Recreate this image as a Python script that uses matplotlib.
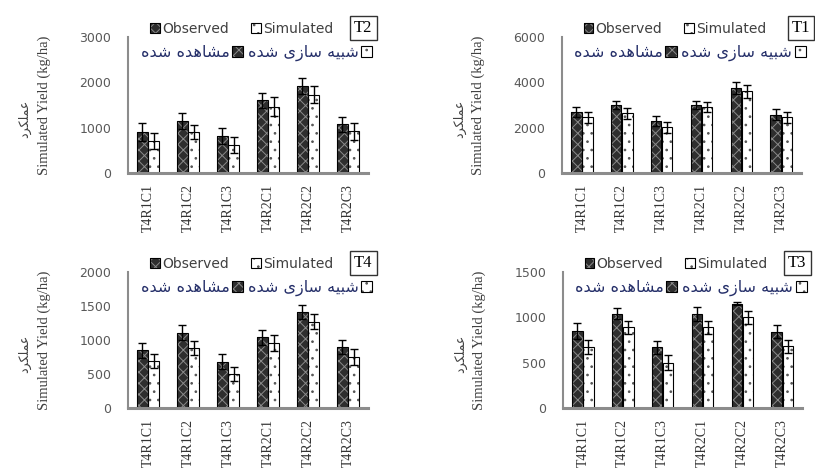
import matplotlib
matplotlib.use("Agg")
import matplotlib.pyplot as plt
from matplotlib.patches import Patch
import numpy as np

# Data
categories = ["T4R1C1", "T4R1C2", "T4R1C3", "T4R2C1", "T4R2C2", "T4R2C3"]

t1_obs = [2700, 3000, 2300, 3000, 3750, 2570]
t1_obs_err = [220, 180, 220, 180, 260, 250]
t1_sim = [2450, 2630, 2020, 2900, 3600, 2450]
t1_sim_err = [250, 230, 250, 220, 270, 250]

t2_obs = [900, 1150, 820, 1600, 1920, 1070]
t2_obs_err = [200, 180, 170, 170, 180, 175]
t2_sim = [710, 900, 620, 1460, 1730, 920]
t2_sim_err = [180, 160, 180, 210, 190, 190]

t3_obs = [850, 1040, 670, 1040, 1150, 840]
t3_obs_err = [85, 60, 70, 75, 15, 70]
t3_sim = [670, 890, 500, 890, 1000, 680]
t3_sim_err = [75, 70, 80, 70, 70, 70]

t4_obs = [850, 1110, 680, 1040, 1410, 900]
t4_obs_err = [110, 110, 110, 110, 100, 100]
t4_sim = [690, 880, 500, 960, 1270, 750]
t4_sim_err = [100, 100, 110, 120, 110, 115]

t1_ticks = [0, 2000, 4000, 6000]
t2_ticks = [0, 1000, 2000, 3000]
t3_ticks = [0, 500, 1000, 1500]
t4_ticks = [0, 500, 1000, 1500, 2000]

label_obs = "Observed"
label_sim = "Simulated"
label_obs_fa = "مشاهده شده"
label_sim_fa = "شبیه سازی شده"
ylabel_fa = "عملکرد"
ylabel_en = "Simulated Yield (kg/ha)"

# matplotlib has no Arabic shaping: pick presentation forms by hand, then reverse
FORMS = {
    'م': (0xFEE1, 0xFEE2, 0xFEE3, 0xFEE4),
    'ش': (0xFEB5, 0xFEB6, 0xFEB7, 0xFEB8),
    'ا': (0xFE8D, 0xFE8E),
    'ه': (0xFEE9, 0xFEEA, 0xFEEB, 0xFEEC),
    'د': (0xFEA9, 0xFEAA),
    'ب': (0xFE8F, 0xFE90, 0xFE91, 0xFE92),
    'ی': (0xFBFC, 0xFBFD, 0xFBFE, 0xFBFF),
    'س': (0xFEB1, 0xFEB2, 0xFEB3, 0xFEB4),
    'ز': (0xFEAF, 0xFEB0),
    'ع': (0xFEC9, 0xFECA, 0xFECB, 0xFECC),
    'ل': (0xFEDD, 0xFEDE, 0xFEDF, 0xFEE0),
    'ک': (0xFB8E, 0xFB8F, 0xFB90, 0xFB91),
    'ر': (0xFEAD, 0xFEAE),
}


def shape_fa(s):
    out = []
    for i, ch in enumerate(s):
        if ch not in FORMS:
            out.append(ch)
            continue
        prev = s[i - 1] if i > 0 else ''
        nxt = s[i + 1] if i + 1 < len(s) else ''
        pj = prev in FORMS and len(FORMS[prev]) == 4
        nj = nxt in FORMS and len(FORMS[ch]) == 4
        f = FORMS[ch]
        if pj and nj:
            out.append(chr(f[3]))
        elif pj:
            out.append(chr(f[1]))
        elif nj:
            out.append(chr(f[2]))
        else:
            out.append(chr(f[0]))
    return ''.join(out)[::-1]


plt.rcParams['hatch.linewidth'] = 0.7
fa_font = ['DejaVu Sans', 'Noto Sans']

OBS_FACE, OBS_HATCH, OBS_PAT = '#2e2e2e', '#8a8a8a', 'xxx'
SIM_FACE, SIM_HATCH, SIM_PAT = 'white', '#555555', '..'

fig = plt.figure(figsize=(8.15, 4.7), dpi=100)

panels = [
    ("T2", t2_obs, t2_obs_err, t2_sim, t2_sim_err, t2_ticks, [0.1571, 0.6319, 0.2945, 0.2894], 0.98),
    ("T1", t1_obs, t1_obs_err, t1_sim, t1_sim_err, t1_ticks, [0.6896, 0.6319, 0.2933, 0.2894], 1.0),
    ("T4", t4_obs, t4_obs_err, t4_sim, t4_sim_err, t4_ticks, [0.1571, 0.1319, 0.2945, 0.2894], 0.98),
    ("T3", t3_obs, t3_obs_err, t3_sim, t3_sim_err, t3_ticks, [0.6908, 0.1319, 0.2933, 0.2894], 0.98),
]

x = np.arange(len(categories))
w = 0.26

for name, obs, obs_err, sim, sim_err, ticks, rect, box_x in panels:
    ax = fig.add_axes(rect)

    # hatched fills, then outlines with error bars on top
    ax.bar(x - 0.14, obs, w, color=OBS_FACE, edgecolor=OBS_HATCH, hatch=OBS_PAT, linewidth=0)
    ax.bar(x + 0.14, sim, w, color=SIM_FACE, edgecolor=SIM_HATCH, hatch=SIM_PAT, linewidth=0)
    ax.bar(x - 0.14, obs, w, fill=False, edgecolor='black', linewidth=0.8,
           yerr=obs_err, capsize=3, error_kw=dict(elinewidth=1, capthick=1, ecolor='black'))
    ax.bar(x + 0.14, sim, w, fill=False, edgecolor='black', linewidth=0.8,
           yerr=sim_err, capsize=3, error_kw=dict(elinewidth=1, capthick=1, ecolor='black'))

    ax.set_xlim(-0.5, len(categories) - 0.5)
    ax.set_ylim(0, ticks[-1])
    ax.set_yticks(ticks)
    ax.set_yticklabels([str(t) for t in ticks], fontsize=9, color='#595959')
    ax.set_xticks(x)
    ax.set_xticklabels(categories, rotation=90, fontsize=10, family='Liberation Serif',
                       color='#333333')
    ax.tick_params(axis='y', length=0, pad=12)
    ax.tick_params(axis='x', length=0, pad=8)

    for side in ['top', 'right']:
        ax.spines[side].set_visible(False)
    ax.spines['left'].set_color('#8c8c8c')
    ax.spines['left'].set_linewidth(1.5)
    ax.spines['bottom'].set_color('#8c8c8c')
    ax.spines['bottom'].set_linewidth(2.2)

    # y labels (Persian + English)
    ax.text(-0.35, 0.5, ylabel_en, transform=ax.transAxes, rotation=90,
            ha='center', va='center', fontsize=10.5, family='Liberation Serif', color='#404040')
    ax.text(-0.43, 0.4, shape_fa(ylabel_fa), transform=ax.transAxes, rotation=90,
            ha='center', va='center', fontsize=9, family=fa_font, color='#404040')

    # legends
    h_obs = (Patch(facecolor=OBS_FACE, edgecolor=OBS_HATCH, hatch=OBS_PAT, linewidth=0),
             Patch(fill=False, edgecolor='black', linewidth=0.8))
    h_sim = (Patch(facecolor=SIM_FACE, edgecolor=SIM_HATCH, hatch=SIM_PAT, linewidth=0),
             Patch(fill=False, edgecolor='black', linewidth=0.8))

    leg1 = ax.legend([h_obs, h_sim], [label_obs, label_sim], ncol=2, frameon=False,
                     loc='center', bbox_to_anchor=(0.473, 1.059), fontsize=10,
                     handlelength=0.7, handleheight=0.7, handletextpad=0.15,
                     columnspacing=1.6, borderpad=0, labelcolor='#404040')
    ax.add_artist(leg1)
    ax.legend([h_obs, h_sim], [shape_fa(label_obs_fa), shape_fa(label_sim_fa)], ncol=2,
              frameon=False, loc='center', bbox_to_anchor=(0.535, 0.882),
              prop=dict(family=fa_font, size=11.5), markerfirst=False,
              handlelength=0.7, handleheight=0.7, handletextpad=0.15,
              columnspacing=0.3, borderpad=0, labelcolor='#26306a')

    # panel name box
    ax.text(box_x, 1.066, name, transform=ax.transAxes, ha='center', va='center',
            fontsize=12, family='Liberation Serif', color='black',
            bbox=dict(boxstyle='square,pad=0.25', facecolor='white', edgecolor='#333333',
                      linewidth=1.0))

fig.savefig('out.png', dpi=100, facecolor='white')
